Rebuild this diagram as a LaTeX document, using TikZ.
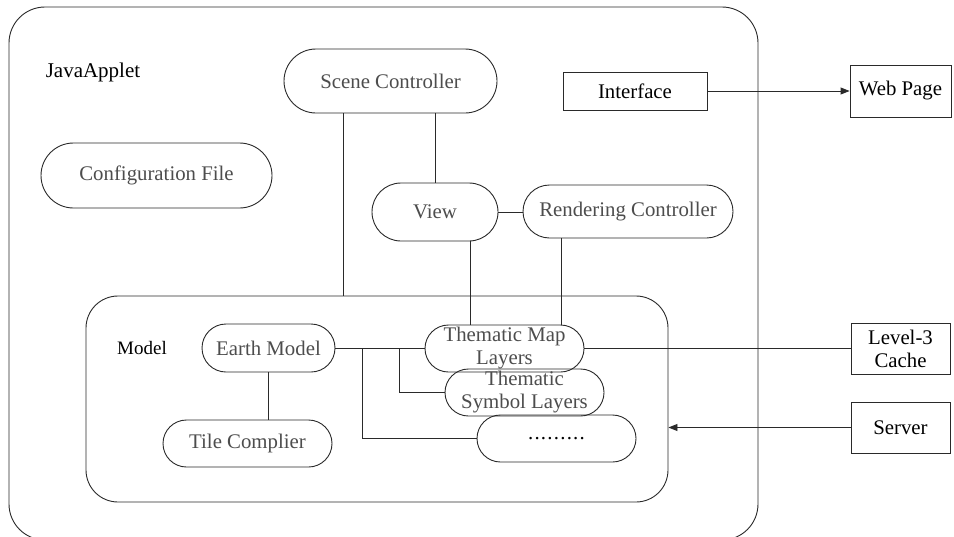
\documentclass[tikz,border=0pt]{standalone}
\usepackage{fontspec}
\setmainfont{Liberation Serif}
\usetikzlibrary{arrows.meta,calc,shapes.misc}
\definecolor{linec}{HTML}{2A2A2A}
\definecolor{pilltext}{HTML}{4D4D4D}
\begin{document}
\begin{tikzpicture}[x=1pt,y=-1pt,
  every node/.style={font=\fontsize{20.8}{23}\selectfont, inner sep=0pt, align=center},
  pill/.style={rounded rectangle, draw=linec, line width=0.9pt, text=pilltext},
  boxnode/.style={draw=linec, line width=0.9pt, text=black},
  link/.style={draw=linec, line width=0.9pt},
  tip/.style={-{Triangle[length=9pt,width=7pt]}}
]
\useasboundingbox (0,0) rectangle (954,536);
\clip (0,0) rectangle (954,536);
\fill[white] (0,0) rectangle (954,536);

% applet frame and model frame
\node[draw=linec, line width=0.9pt, rounded corners=36pt, minimum width=749pt, minimum height=533pt] (applet) at (383.5,273.5) {};
\node[draw=linec, line width=0.9pt, rounded corners=32pt, minimum width=582pt, minimum height=206pt] (model) at (377,399) {};

\node[text=black, font=\fontsize{21}{24}\selectfont] (title) at (93,72) {JavaApplet};
\node[text=black, font=\fontsize{19}{21}\selectfont] (mlabel) at (142,348) {Model};

% applet components
\node[pill, minimum width=213pt, minimum height=64pt] (scene) at (390.5,81) {Scene Controller};
\node[pill, minimum width=231pt, minimum height=65pt] (config) at (156.5,175.5) {Configuration File};
\node[pill, minimum width=126pt, minimum height=58pt] (view) at (435,212) {View};
\node[pill, minimum width=210pt, minimum height=53pt] (render) at (628,211.5) {Rendering Controller};

% model components
\node[pill, minimum width=133pt, minimum height=48pt] (earth) at (268.5,348) {Earth Model};
\node[pill, minimum width=169pt, minimum height=47pt] (tile) at (247.5,443.5) {Tile Complier};
\node[pill, minimum width=159pt, minimum height=47pt] (tmap) at (504.5,348.5) {Thematic Map\\Layers};
\node[pill, minimum width=159pt, minimum height=47pt] (tsym) at (524.5,392.5) {Thematic\\Symbol Layers};
\node[pill, minimum width=159pt, minimum height=47pt, text=black] (dots) at (556.5,438.5) {\addfontfeatures{LetterSpace=6}.........};

% external parts
\node[boxnode, minimum width=144pt, minimum height=38pt] (iface) at (635,91) {Interface};
\node[boxnode, minimum width=101pt, minimum height=52pt] (web) at (900.5,91) {Web Page};
\node[boxnode, minimum width=99pt, minimum height=51pt] (cache) at (900.5,348.5) {Level-3\\Cache};
\node[boxnode, minimum width=99pt, minimum height=51pt] (server) at (900.5,427.5) {Server};

% connectors
\draw[link] ([xshift=-47.5pt]scene.south) -- ([xshift=-47.5pt]scene.south |- model.north);
\draw[link] (scene.south -| view.north) -- (view.north);
\draw[link] (view.east) -- (view.east -| render.west);
\draw[link] ([xshift=35pt]view.south) -- ([xshift=35pt]view.south |- tmap.north);
\draw[link] ([xshift=-67pt]render.south) -- ([xshift=-67pt]render.south |- tmap.north);
\draw[link] (earth.east) -- (earth.east -| tmap.west);
\coordinate (splitA) at (399,348);
\coordinate (splitB) at (362,348);
\draw[link] (splitA) |- (tsym.west);
\draw[link] (splitB) |- (dots.west);
\draw[link] (earth.south) -- (earth.south |- tile.north);
\draw[link] (tmap.east) -- (tmap.east -| cache.west);
\draw[link, tip] (iface.east) -- (web.west);
\draw[link, tip] (server.west) -- (server.west -| model.east);
\end{tikzpicture}
\end{document}
